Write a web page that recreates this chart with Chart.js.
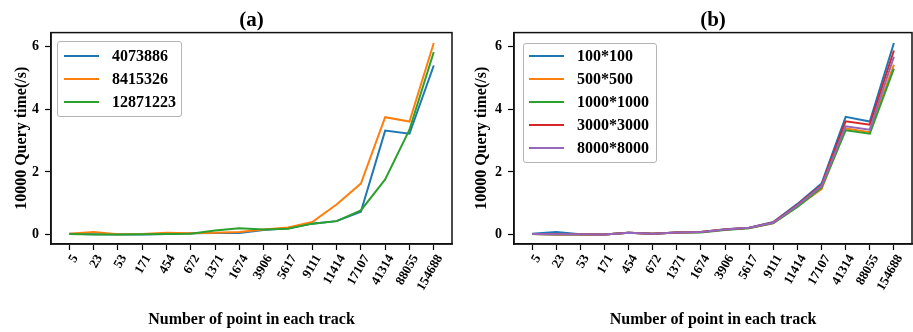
<!DOCTYPE html>
<html><head><meta charset="utf-8">
<script src="https://cdn.jsdelivr.net/npm/chart.js@4.4.1/dist/chart.umd.min.js"></script>
<style>
html,body{margin:0;padding:0;background:#fff;}
#wrap{position:relative;width:913px;height:332px;overflow:hidden;background:#fff;}
.box{position:absolute;top:0;height:332px;}
.legend{position:absolute;background:rgba(255,255,255,0.85);border:1px solid #b5b5b5;border-radius:3px;font:bold 16px 'Liberation Serif','Times New Roman',serif;color:#000;box-sizing:border-box;}
.row{position:absolute;left:0;right:0;height:20px;}
.sw{position:absolute;height:2px;top:9px;}
.tx{position:absolute;top:0;line-height:20px;white-space:nowrap;}
</style>
</head><body>
<div id="wrap">
  <div class="box" style="left:0;width:457px;"><canvas id="ca" width="457" height="332"></canvas></div>
  <div class="box" style="left:457px;width:456px;"><canvas id="cb" width="456" height="332"></canvas></div>
  <div id="legA" class="legend" style="left:57px;top:41px;width:125px;height:76px;"></div>
  <div id="legB" class="legend" style="left:523px;top:43px;width:134px;height:120px;"></div>
</div>
<script>
// ---- data ----
const categories = ['5','23','53','171','454','672','1371','1674','3906','5617','9111','11414','17107','41314','88055','154688'];
const yTicks = [0, 2, 4, 6];

const namesA = ['4073886', '8415326', '12871223'];
const a_4073886  = [0.03,0.01,0.00,0.00,0.02,0.04,0.05,0.05,0.15,0.20,0.35,0.43,0.73,3.32,3.22,5.40];
const a_8415326  = [0.03,0.08,0.01,0.02,0.06,0.04,0.06,0.08,0.16,0.23,0.40,0.96,1.63,3.75,3.61,6.12];
const a_12871223 = [0.02,0.00,0.00,0.01,0.02,0.03,0.13,0.20,0.16,0.19,0.35,0.43,0.77,1.76,3.35,5.83];

const namesB = ['100*100', '500*500', '1000*1000', '3000*3000', '8000*8000'];
const b_100  = [0.03,0.08,0.01,0.00,0.06,0.03,0.07,0.08,0.17,0.22,0.40,0.98,1.63,3.76,3.61,6.12];
const b_500  = [0.02,0.00,0.01,0.00,0.06,0.03,0.07,0.08,0.16,0.21,0.36,0.90,1.45,3.39,3.27,5.43];
const b_1000 = [0.02,0.00,0.01,0.00,0.06,0.03,0.07,0.07,0.15,0.20,0.37,0.88,1.50,3.33,3.22,5.30];
const b_3000 = [0.02,0.01,0.01,0.00,0.06,0.03,0.07,0.08,0.16,0.22,0.39,0.95,1.58,3.62,3.51,5.88];
const b_8000 = [0.02,0.01,0.01,0.00,0.06,0.03,0.07,0.08,0.16,0.22,0.38,0.93,1.55,3.46,3.35,5.68];

const colors = ['#1f77b4', '#ff7f0e', '#2ca02c', '#d62728', '#9467bd'];
const FONT = "'Liberation Serif','Times New Roman',serif";

const framePlugin = {
  id: 'frame',
  afterDraw(chart) {
    const {ctx, chartArea: a} = chart;
    ctx.save();
    ctx.strokeStyle = '#111';
    ctx.lineWidth = 1.5;
    ctx.strokeRect(a.left, a.top, a.right - a.left, a.bottom - a.top);
    ctx.restore();
  }
};

function makeChart(id, names, seriesList, title, yAxisW, yTitlePad, padRight) {
  const n = seriesList.length;
  const datasets = seriesList.map((vals, i) => ({
    label: names[i],
    data: vals.map((v, j) => ({x: j, y: v})),
    borderColor: colors[i],
    backgroundColor: colors[i],
    borderWidth: 2,
    pointRadius: 0,
    tension: 0,
    fill: false,
    order: n - 1 - i
  }));
  return new Chart(document.getElementById(id), {
    type: 'line',
    data: {datasets},
    plugins: [framePlugin],
    options: {
      responsive: false,
      animation: false,
      events: [],
      layout: {padding: {left: 0, right: padRight, top: 0, bottom: 0}},
      plugins: {
        legend: {display: false},
        tooltip: {enabled: false},
        title: {
          display: true, text: title, color: '#000', fullSize: false,
          font: {family: FONT, size: 21, weight: 'bold', lineHeight: 1.1},
          padding: {top: 9.5, bottom: 0}
        }
      },
      scales: {
        x: {
          type: 'linear', min: -0.75, max: 15.75,
          afterBuildTicks: s => { s.ticks = categories.map((_, i) => ({value: i})); },
          afterFit: s => { s.height = 88; },
          ticks: {
            autoSkip: false, minRotation: 60, maxRotation: 60, color: '#000',
            font: {family: FONT, size: 13, weight: 'bold'},
            padding: 2, labelOffset: 6,
            callback: v => categories[v]
          },
          grid: {display: true, drawOnChartArea: false, drawTicks: true, tickLength: 6, color: '#000', tickWidth: 1.2},
          border: {display: true, color: '#111', width: 1.5},
          title: {
            display: true, text: 'Number of point in each track', color: '#000',
            font: {family: FONT, size: 16, weight: 'bold'},
            padding: {top: 4, bottom: 3}
          }
        },
        y: {
          type: 'linear', min: -0.3, max: 6.45,
          afterBuildTicks: s => { s.ticks = yTicks.map(v => ({value: v})); },
          afterFit: s => { s.width = yAxisW; },
          ticks: {color: '#000', font: {family: FONT, size: 14, weight: 'bold'}, padding: 6},
          grid: {display: true, drawOnChartArea: false, drawTicks: true, tickLength: 6, color: '#000', tickWidth: 1.2},
          border: {display: true, color: '#111', width: 1.5},
          title: {
            display: true, text: '10000 Query time(/s)', color: '#000',
            font: {family: FONT, size: 16, weight: 'bold'},
            padding: {top: yTitlePad, bottom: 0}
          }
        }
      }
    }
  });
}

function buildLegend(elId, chart, firstY, step, swL, swR, txL) {
  const el = document.getElementById(elId);
  chart.data.datasets.forEach((ds, i) => {
    const row = document.createElement('div');
    row.className = 'row';
    row.style.top = (firstY + i * step - 10) + 'px';
    const sw = document.createElement('div');
    sw.className = 'sw';
    sw.style.left = swL + 'px';
    sw.style.width = (swR - swL) + 'px';
    sw.style.background = ds.borderColor;
    const tx = document.createElement('div');
    tx.className = 'tx';
    tx.style.left = txL + 'px';
    tx.textContent = ds.label;
    row.appendChild(sw); row.appendChild(tx);
    el.appendChild(row);
  });
}

const chartA = makeChart('ca', namesA, [a_4073886, a_8415326, a_12871223], '(a)', 51, 12, 5);
const chartB = makeChart('cb', namesB, [b_100, b_500, b_1000, b_3000, b_8000], '(b)', 57, 15, 1);
buildLegend('legA', chartA, 14, 23, 6, 41, 54);
buildLegend('legB', chartB, 12, 23, 5, 40, 53);
</script>
</body></html>
